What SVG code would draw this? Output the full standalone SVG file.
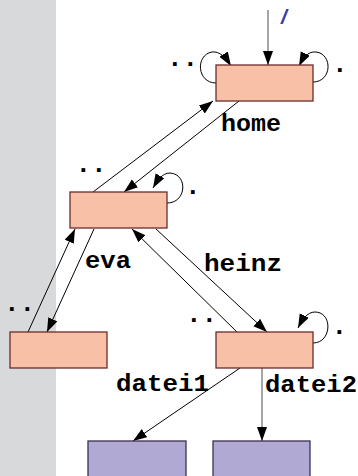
<svg xmlns="http://www.w3.org/2000/svg" width="358" height="476" viewBox="0 0 358 476">
<defs>
<marker id="ah" markerUnits="userSpaceOnUse" markerWidth="15" markerHeight="11" refX="14" refY="5" orient="auto" viewBox="0 0 15 11">
<path d="M0,0 L14,5 L0,10 z" fill="#000"/>
</marker>
<style>
.dir{fill:#f9c0a8;stroke:#6b2c2c;stroke-width:1.3}
.file{fill:#afa9d3;stroke:#3b3050;stroke-width:1.3}
.e{fill:none;stroke:#000;stroke-width:1;marker-end:url(#ah)}
.g{fill:none;stroke:#777;stroke-width:1.3;marker-end:url(#ah)}
.lbl{font-family:"Liberation Mono",monospace;font-weight:bold;font-size:23px;fill:#000}
.dots{font-family:"Liberation Mono",monospace;font-weight:bold;font-size:26px;fill:#000}
</style>
</defs>
<rect x="0" y="0" width="56" height="476" fill="#d8d9db"/>
<g id="connectors">
<line class="g" x1="268" y1="10" x2="268" y2="65"/>
<path class="e" d="M216,83 C197,83 195,55 212,52 C220,51 226,58 231,66"/>
<path class="e" d="M313,82 C332,82 333,54 316,52 C308,51 303,58 299,66"/>
<line class="e" x1="93" y1="192" x2="213" y2="101"/>
<line class="e" x1="239" y1="101" x2="124" y2="192"/>
<path class="e" d="M167,203 C187,203 188,174 170,173 C162,173 157,181 153,188"/>
<line class="e" x1="28" y1="332" x2="75" y2="229"/>
<line class="e" x1="94" y1="229" x2="47" y2="332"/>
<line class="e" x1="237" y1="332" x2="132" y2="229"/>
<line class="e" x1="156" y1="229" x2="267" y2="332"/>
<path class="e" d="M313,343 C332,343 333,312 315,312 C307,312 302,320 298,328"/>
<line class="e" x1="240" y1="368" x2="133" y2="441"/>
<line class="g" x1="262" y1="368" x2="262" y2="441"/>
</g>
<g id="root">
<rect class="dir" x="216" y="65" width="97" height="36"/>
<text x="281" y="24" font-family="Liberation Sans,sans-serif" font-weight="bold" font-style="italic" font-size="21" fill="#3b3ba8">/</text>
<text class="dots" x="167" y="66">..</text>
<text class="dots" x="332" y="72">.</text>
</g>
<g id="home">
<rect class="dir" x="70" y="192" width="97" height="36"/>
<text class="lbl" x="221" y="131" textLength="60" lengthAdjust="spacingAndGlyphs">home</text>
<text class="dots" x="75.5" y="172">..</text>
<text class="dots" x="185" y="194">.</text>
</g>
<g id="eva">
<rect class="dir" x="10" y="332" width="97" height="36"/>
<text class="lbl" x="85" y="268" textLength="46" lengthAdjust="spacingAndGlyphs">eva</text>
<text class="dots" x="4" y="311">..</text>
</g>
<g id="heinz">
<rect class="dir" x="216" y="332" width="97" height="36"/>
<text class="lbl" x="204" y="271" textLength="78" lengthAdjust="spacingAndGlyphs">heinz</text>
<text class="dots" x="186" y="322">..</text>
<text class="dots" x="331.5" y="334">.</text>
</g>
<g id="datei1">
<rect class="file" x="88" y="441" width="98" height="40"/>
<text class="lbl" x="116" y="391" textLength="93" lengthAdjust="spacingAndGlyphs">datei1</text>
</g>
<g id="datei2">
<rect class="file" x="213" y="441" width="97" height="40"/>
<text class="lbl" x="265" y="392" textLength="92" lengthAdjust="spacingAndGlyphs">datei2</text>
</g>
</svg>
